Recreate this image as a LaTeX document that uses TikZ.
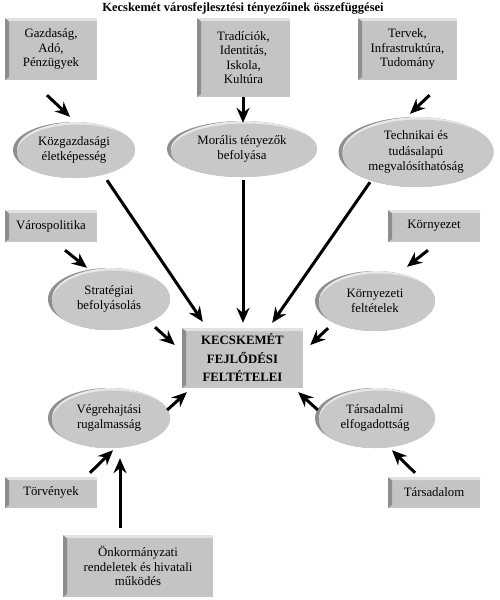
\documentclass[tikz,border=0pt]{standalone}
\usepackage{fontspec}
\setmainfont{Liberation Serif}
\usetikzlibrary{arrows.meta,shapes.geometric,calc}
\definecolor{boxgray}{HTML}{C4C4C4}
\definecolor{boxdark}{HTML}{8E8E8E}
\definecolor{boxlight}{HTML}{E2E2E2}
\definecolor{ellgray}{HTML}{C8C8C8}
\definecolor{elldark}{HTML}{8F8F8F}
\definecolor{elllight}{HTML}{E8E8E8}
\begin{document}
\begin{tikzpicture}[x=1pt,y=-1pt,
  txt/.style={font=\fontsize{12.8}{14.3}\selectfont, align=center, text=black},
  bevel/.style={path picture={
    \fill[boxdark] (path picture bounding box.north west) -- (path picture bounding box.south west)
      -- ([shift={(4pt,3pt)}]path picture bounding box.south west)
      -- ([shift={(4pt,-3pt)}]path picture bounding box.north west) -- cycle;
    \fill[boxlight] (path picture bounding box.north west) -- (path picture bounding box.north east)
      -- ([shift={(0pt,-3pt)}]path picture bounding box.north east)
      -- ([shift={(4pt,-3pt)}]path picture bounding box.north west) -- cycle;
  }},
  bx/.style 2 args={txt, rectangle, inner sep=0pt, fill=boxgray, minimum width=#1, minimum height=#2, bevel},
  el/.style 2 args={txt, ellipse, inner sep=0pt, minimum width=#1, minimum height=#2, fill=elldark,
    font=\fontsize{12.8}{15.5}\selectfont,
    path picture={
      \fill[elllight] ([xshift=4pt]path picture bounding box.center) ellipse [x radius=#1/2, y radius=#2/2];
      \fill[ellgray] ([shift={(4pt,-2.5pt)}]path picture bounding box.center) ellipse [x radius=#1/2, y radius=#2/2];
  }},
  arr/.style={line width=3pt, -{Stealth[length=15pt,width=13pt,inset=5pt]}}
]
\useasboundingbox[fill=white] (0,0) rectangle (500,600);

\node[font=\bfseries\fontsize{12.5}{14}\selectfont] (title) at (243,8) {Kecskemét városfejlesztési tényezőinek összefüggései};

% top boxes
\node[bx={92pt}{62pt}] (b1) at (51,49) {Gazdaság,\\Adó,\\Pénzügyek};
\node[bx={93pt}{79pt}] (b2) at (243.5,57.5) {Tradíciók,\\Identitás,\\Iskola,\\Kultúra};
\node[bx={99pt}{62pt}] (b3) at (407.5,49) {Tervek,\\Infrastruktúra,\\Tudomány};

% top ellipses
\node[el={122pt}{56pt}] (e1) at (74,150) {Közgazdasági\\életképesség};
\node[el={150pt}{56pt}] (e2) at (242,149) {Morális tényezők\\befolyása};
\node[el={155pt}{70pt}] (e3) at (416,152) {Technikai és\\tudásalapú\\megvalósíthatóság};

% side boxes
\node[bx={92pt}{32pt}] (b4) at (51,226) {Várospolitika};
\node[bx={92pt}{32pt}] (b5) at (434,226) {Környezet};

% middle ellipses
\node[el={122pt}{62pt}] (e4) at (109,299) {Stratégiai\\befolyásolás};
\node[el={120pt}{60pt}] (e5) at (375,301) {Környezeti\\feltételek};

% center
\node[bx={121pt}{60pt}, font=\bfseries\fontsize{12.8}{18.5}\selectfont] (c) at (242.5,358) {KECSKEMÉT\\FEJLŐDÉSI\\FELTÉTELEI};

% lower ellipses
\node[el={122pt}{60pt}] (e6) at (109,418) {Végrehajtási\\rugalmasság};
\node[el={120pt}{60pt}] (e7) at (375,418) {Társadalmi\\elfogadottság};

% bottom boxes
\node[bx={92pt}{31pt}] (b6) at (51,492.5) {Törvények};
\node[bx={92pt}{31pt}] (b7) at (434,492.5) {Társadalom};
\node[bx={150pt}{62pt}] (b8) at (138,566) {Önkormányzati\\rendeletek és hivatali\\működés};

% arrows
\draw[arr] ($(b1.south)+(-4,15)$) -- ($(e1.north)+(-4,-5)$);
\draw[arr] ($(b2.south)+(-0.5,0)$) -- ($(e2.north)+(1,2)$);
\draw[arr] ($(b3.south)+(22,15)$) -- ($(e3.north)+(-6,-3)$);

\draw[arr] ($(e1.south)+(33,2)$) -- ($(c.north west)+(21,-6)$);
\draw[arr] ($(e2.south)+(1,3)$) -- ($(c.north)+(0.5,-5)$);
\draw[arr] ($(e3.south)+(-46,-5)$) -- ($(c.north east)+(-31,-5)$);

\draw[arr] ($(b4.south)+(14,8)$) -- ($(e4.north)+(-22,0)$);
\draw[arr] ($(b5.south)+(-6,8)$) -- ($(e5.north)+(32,-4)$);

\draw[arr] ($(e4.south)+(46,-3)$) -- ($(c.west)+(-7,-13)$);
\draw[arr] ($(e5.south)+(-47,-3)$) -- ($(c.east)+(7,-13)$);

\draw[arr] ($(e6.east)+(-3,-8)$) -- ($(c.south west)+(5,4)$);
\draw[arr] ($(e7.west)+(3,-8)$) -- ($(c.south east)+(-5,4)$);

\draw[arr] ($(b6.north)+(39,-4)$) -- ($(e6.south)+(4,2)$);
\draw[arr] ($(b8.north)+(-18,-7)$) -- ($(e6.south)+(11,10)$);
\draw[arr] ($(b7.north)+(-19,-4)$) -- ($(e7.south)+(17,2)$);
\end{tikzpicture}
\end{document}
